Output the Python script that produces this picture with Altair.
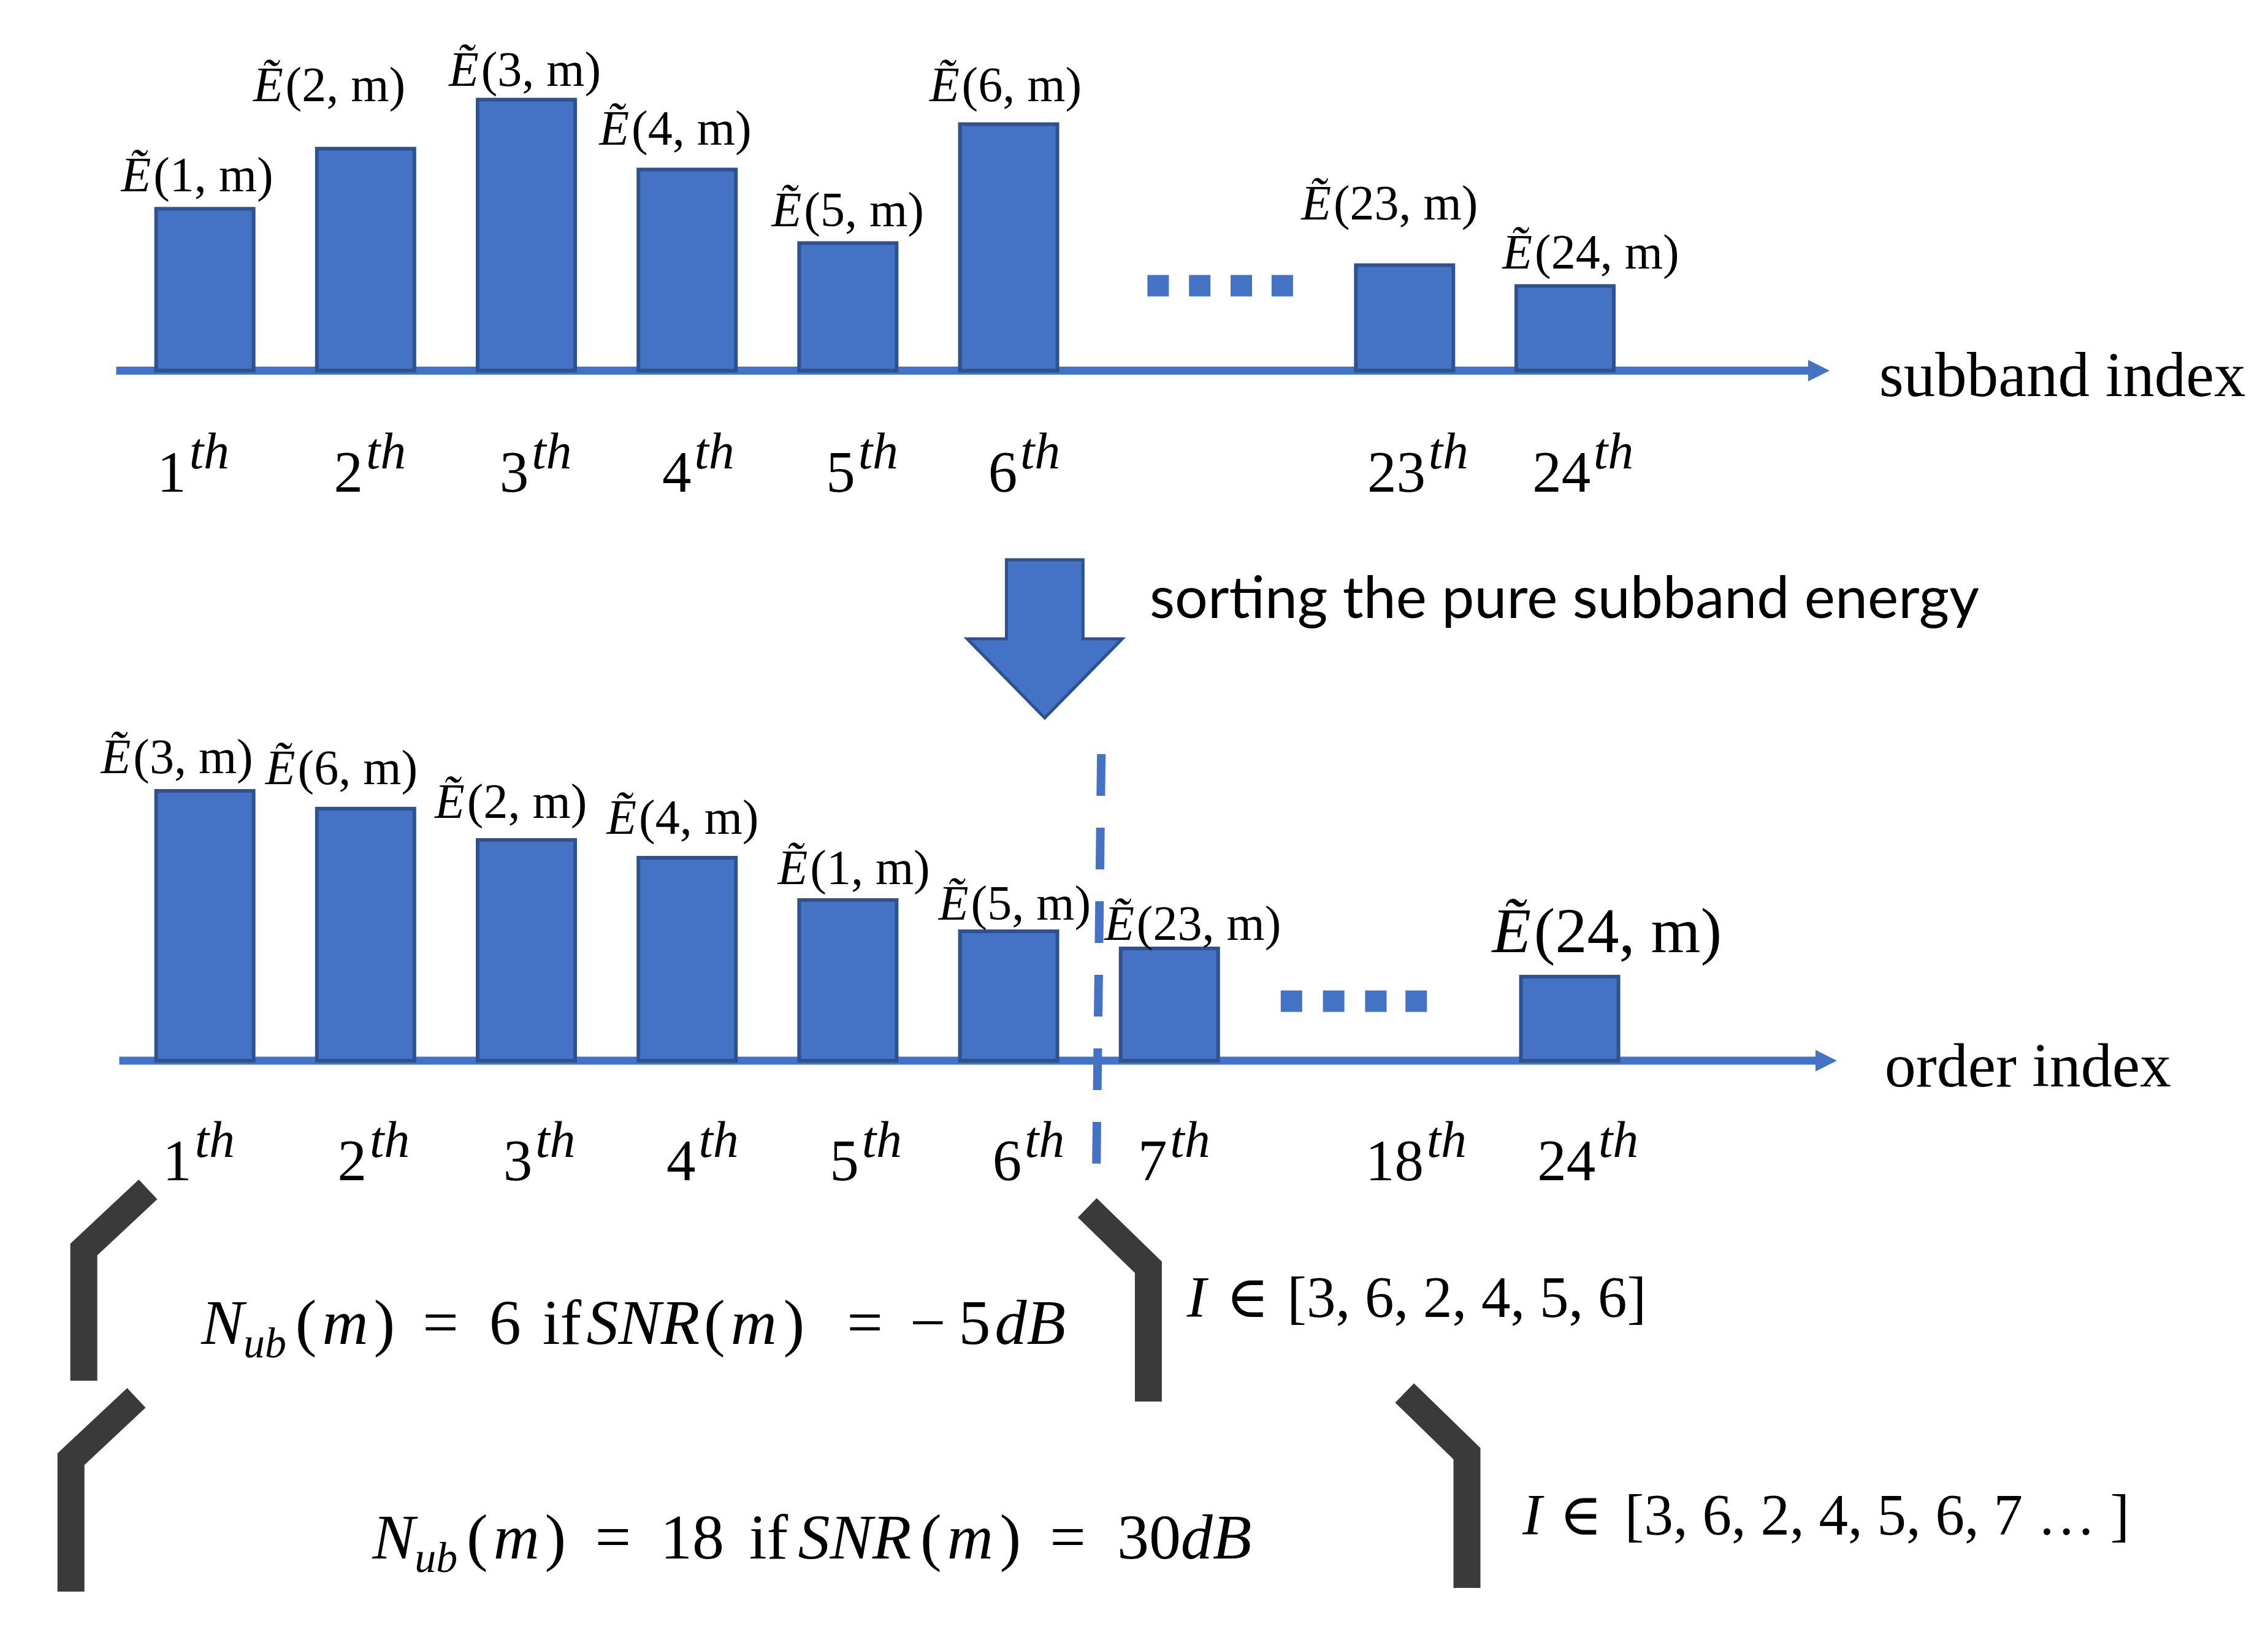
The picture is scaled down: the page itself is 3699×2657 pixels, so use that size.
import altair as alt
import pandas as pd

# ---------------- data ----------------
subband_ticks = ["1", "2", "3", "4", "5", "6", "23", "24"]
subband_ids = [1, 2, 3, 4, 5, 6, 23, 24]
subband_energy = [264, 362, 442, 328, 208, 402, 172, 138]
sorted_ids = [3, 6, 2, 4, 1, 5, 23, 24]
sorted_energy = [440, 411, 360, 331, 262, 211, 183, 137]
order_ticks = ["1", "2", "3", "4", "5", "6", "7", "18", "24"]
nub_cases = ["6", "18"]
snr_cases = ["\u2212\u20095", "30"]
index_sets = ["[3, 6, 2, 4, 5, 6]", "[3, 6, 2, 4, 5, 6, 7 \u2026 ]"]

# ---------------- layout ----------------
W, H = 3683, 2641
P = 262.9
X1 = 330.0
FILL = "#4472C4"
EDGE = "#2F528F"
DARK = "#3a3a3a"
SERIF = "Liberation Serif, DejaVu Serif"


def sx(px):
    return (px - X1) / P + 1


def vy(py):
    return 2649 - py


TOP_BASE, BOT_BASE = 604.5, 1730.0
top_slots = [1, 2, 3, 4, 5, 6, 8.463, 9.461]
bot_slots = [1, 2, 3, 4, 5, 6, 7, 9.49]

bars_df = pd.DataFrame(
    [dict(slot=s, y0=vy(TOP_BASE), y1=vy(TOP_BASE) + e) for s, e in zip(top_slots, subband_energy)]
    + [dict(slot=s, y0=vy(BOT_BASE), y1=vy(BOT_BASE) + e) for s, e in zip(bot_slots, sorted_energy)]
)

axis_df = pd.DataFrame([
    dict(x=sx(185), x2=sx(2956), y=vy(TOP_BASE)),
    dict(x=sx(190), x2=sx(2967), y=vy(BOT_BASE)),
])
head_df = pd.DataFrame([
    dict(x=sx(2969.5), y=vy(TOP_BASE)),
    dict(x=sx(2981.5), y=vy(BOT_BASE)),
])
down_df = pd.DataFrame([dict(x=sx(1703.5), y=vy(1042))])
dots_df = pd.DataFrame(
    [dict(x=sx(px), y=vy(466)) for px in [1889, 1957, 2025, 2092]]
    + [dict(x=sx(px), y=vy(1633)) for px in [2107, 2176, 2245, 2311]]
)
dash_df = pd.DataFrame([dict(x=sx(1796), x2=sx(1788), y=vy(1230), y2=vy(1899))])

brackets = [
    ("L1", [(237, 1940), (132, 2038), (132, 2252)]),
    ("R1", [(1773, 1970), (1873, 2067), (1873, 2286)]),
    ("L2", [(218, 2280), (111, 2380), (111, 2596)]),
    ("R2", [(2292, 2272), (2394, 2371), (2394, 2590)]),
]
br_df = pd.DataFrame(
    [dict(id=b, ord=i, x=sx(px), y=vy(py)) for b, pts in brackets for i, (px, py) in enumerate(pts)]
)

rows = []


def add(text, x, y, size, style="normal"):
    rows.append(dict(x=sx(x), y=vy(y), text=text, size=size, style=style))


def elabel(k, left, base, size=80):
    add("\u1EBC", left, base, size, "italic")
    add(f"({k}, m)", left + 0.66 * size, base, size)


def tick(t, left, base):
    add(t, left, base, 95)
    add("th", left + len(t) * 47.5 + 5, base - 38, 84, "italic")


top_lab_left = [193, 409, 729, 975, 1257, 1515, 2123, 2452]
top_lab_base = [312, 165, 140, 236, 369, 165, 358, 438]
for k, l, b in zip(subband_ids, top_lab_left, top_lab_base):
    elabel(k, l, b)

bot_lab_left = [160, 429, 706, 987, 1267, 1530, 1801, 2435]
bot_lab_base = [1261, 1279, 1334, 1360, 1442, 1500, 1533, 1553]
bot_lab_size = [80, 80, 80, 80, 80, 80, 80, 104]
for k, l, b, s in zip(sorted_ids, bot_lab_left, bot_lab_base, bot_lab_size):
    elabel(k, l, b, s)

top_tick_left = [252, 541, 812, 1078, 1346, 1611, 2231, 2501]
for t, l in zip(subband_ticks, top_tick_left):
    tick(t, l, 802)
bot_tick_left = [261, 547, 818, 1085, 1352, 1618, 1856, 2228, 2509]
for t, l in zip(order_ticks, bot_tick_left):
    tick(t, l, 1925)


# formulas
def formula(nub, snr, xs, base):
    add("N", xs[0], base, 104, "italic")
    add("ub", xs[1], base + 22, 70, "italic")
    add("(", xs[2], base, 104)
    add("m", xs[3], base, 104, "italic")
    add(")", xs[4], base, 104)
    add("=", xs[5], base, 104)
    add(nub, xs[6], base, 104)
    add("if", xs[7], base, 104)
    add("SNR", xs[8], base, 104, "italic")
    add("(", xs[9], base, 104)
    add("m", xs[10], base, 104, "italic")
    add(")", xs[11], base, 104)
    add("=", xs[12], base, 104)
    add(snr, xs[13], base, 104)
    add("dB", xs[14], base, 104, "italic")


formula(nub_cases[0], snr_cases[0],
        [324, 393, 478, 522, 606, 686, 795, 882, 954, 1146, 1190, 1276, 1380, 1483, 1622], 2192)
formula(nub_cases[1], snr_cases[1],
        [604, 673, 758, 802, 886, 968, 1075, 1220, 1300, 1500, 1544, 1630, 1712, 1822, 1926], 2542)

add("I", 1936, 2148, 95, "italic")
add("\u2208", 2000, 2148, 95)
add(index_sets[0], 2100, 2148, 95)
add("I", 2485, 2503, 95, "italic")
add("\u2208", 2545, 2503, 95)
add(index_sets[1], 2652, 2503, 95)

add("subband index", 3068, 646, 103)
add("order index", 3077, 1772, 102)

text_df = pd.DataFrame(rows)
sans_df = pd.DataFrame([dict(x=sx(1875), y=vy(1008), text="sorting the pure subband energy")])

# ---------------- chart ----------------
xs = alt.Scale(domain=[sx(8), sx(8 + W)], nice=False, zero=False)
ys = alt.Scale(domain=[0, H], nice=False, zero=False)
X = alt.X("x:Q", scale=xs, axis=None)
Y = alt.Y("y:Q", scale=ys, axis=None)

axis_lines = alt.Chart(axis_df).mark_rule(color=FILL, strokeWidth=13, strokeCap="butt").encode(
    x=X, x2="x2:Q", y=Y)
heads = alt.Chart(head_df).mark_point(
    shape="M-1,-1L1,0L-1,1Z", size=1225, filled=True, fill=FILL, opacity=1, strokeWidth=0
).encode(x=X, y=Y)
bars = alt.Chart(bars_df).mark_bar(size=159, fill=FILL, stroke=EDGE, strokeWidth=6).encode(
    x=alt.X("slot:Q", scale=xs, axis=None),
    y=alt.Y("y0:Q", scale=ys, axis=None),
    y2="y1:Q",
)
down = alt.Chart(down_df).mark_point(
    shape="M-0.484,-1L0.484,-1L0.484,0L0.98,0L0,1L-0.98,0L-0.484,0Z",
    size=258 ** 2, filled=True, fill=FILL, stroke=EDGE, strokeWidth=5, opacity=1,
).encode(x=X, y=Y)
dots = alt.Chart(dots_df).mark_square(size=1225, color=FILL, opacity=1).encode(x=X, y=Y)
dash = alt.Chart(dash_df).mark_rule(color=FILL, strokeWidth=14, strokeDash=[68, 52], strokeCap="butt").encode(
    x=X, x2="x2:Q", y=Y, y2="y2:Q")
brk = alt.Chart(br_df).mark_line(color=DARK, strokeWidth=44, strokeCap="butt", strokeJoin="miter").encode(
    x=X, y=Y, detail="id:N", order="ord:Q")

txt_up = alt.Chart(text_df).transform_filter(alt.datum.style == "normal").mark_text(
    align="left", baseline="alphabetic", font=SERIF, color="black"
).encode(x=X, y=Y, text="text:N", size=alt.Size("size:Q", scale=None))
txt_it = alt.Chart(text_df).transform_filter(alt.datum.style == "italic").mark_text(
    align="left", baseline="alphabetic", font=SERIF, fontStyle="italic", color="black"
).encode(x=X, y=Y, text="text:N", size=alt.Size("size:Q", scale=None))
txt_sans = alt.Chart(sans_df).mark_text(
    align="left", baseline="alphabetic", font="Lato", fontSize=95, color="black"
).encode(x=X, y=Y, text="text:N")

chart = alt.layer(
    axis_lines, heads, bars, down, dots, dash, brk, txt_up, txt_it, txt_sans
).properties(
    width=W, height=H, padding=0, autosize=alt.AutoSizeParams(type="none")
).configure_view(stroke=None)

chart.save("out.html", embed_options={"renderer": "svg", "actions": False})
